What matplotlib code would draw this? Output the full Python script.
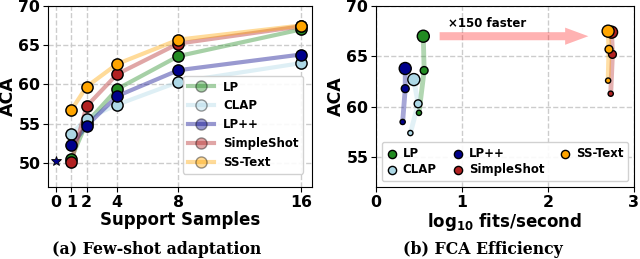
import numpy as np
import matplotlib
matplotlib.use("Agg")
import matplotlib.pyplot as plt

# data
shots = [1, 2, 4, 8, 16]
methods = ["LP", "CLAP", "LP++", "SimpleShot", "SS-Text"]
colors = ["forestgreen", "lightblue", "darkblue", "firebrick", "orange"]

aca_lp = [50.5, 55.1, 59.4, 63.6, 67.0]
aca_clap = [53.7, 55.6, 57.4, 60.3, 62.7]
aca_lppp = [52.2, 54.7, 58.5, 61.8, 63.8]
aca_simpleshot = [50.1, 57.2, 61.3, 65.2, 67.4]
aca_sstext = [56.7, 59.7, 62.6, 65.7, 67.5]
zero_shot = 50.2

# efficiency panel: 4, 8, 16 shots
eff_shots = [4, 8, 16]
fits_lp = [0.50, 0.56, 0.55]
fits_clap = [0.40, 0.49, 0.44]
fits_lppp = [0.31, 0.34, 0.34]
fits_simpleshot = [2.73, 2.75, 2.74]
fits_sstext = [2.70, 2.71, 2.70]

plt.rcParams['font.family'] = 'DejaVu Sans'
plt.rcParams['font.weight'] = 'bold'

fig = plt.figure(figsize=(6.4, 2.59), dpi=100)
ax1 = fig.add_axes([0.075, 0.278, 0.4125, 0.699])
ax2 = fig.add_axes([0.5875, 0.278, 0.403, 0.699])

all_aca = [aca_lp, aca_clap, aca_lppp, aca_simpleshot, aca_sstext]
all_fits = [fits_lp, fits_clap, fits_lppp, fits_simpleshot, fits_sstext]

# (a) few-shot adaptation
for name, col, vals in zip(methods, colors, all_aca):
    ax1.plot(shots, vals, '-o', color=col, lw=3, alpha=0.4, ms=8,
             mec='black', mew=1, label=name, zorder=2)
for name, col, vals in zip(methods, colors, all_aca):
    ax1.plot(shots, vals, 'o', color=col, ms=8, mec='black', mew=1, zorder=3)
ax1.plot([0], [zero_shot], '*', color='darkblue', ms=7, mec='black', mew=0.6, zorder=3)

ax1.set_xlim(-0.52, 16.73)
ax1.set_ylim(46.9, 70.0)
ax1.set_xticks([0, 1, 2, 4, 8, 16])
ax1.set_yticks([50, 55, 60, 65, 70])
ax1.grid(True, ls='--', color='#cccccc', lw=1)
ax1.set_axisbelow(True)
ax1.tick_params(labelsize=11.3, pad=2)
ax1.set_xlabel("Support Samples", fontsize=12, fontweight='bold', labelpad=1)
ax1.set_ylabel("ACA", fontsize=12.5, fontweight='bold', labelpad=1)
ax1.legend(loc='lower right', fontsize=8.5, handlelength=2.2, framealpha=0.9,
           borderpad=0.4, labelspacing=0.5, bbox_to_anchor=(0.99, 0.04))

# (b) FCA efficiency
sizes = [14, 32, 75]
for name, col, fx, vals in zip(methods, colors, all_fits, all_aca):
    ys = vals[2:]
    ax2.plot(fx, ys, '-', color=col, lw=3.5, alpha=0.35, zorder=2)
    ax2.scatter(fx, ys, s=sizes, color=col, edgecolor='black', lw=1, zorder=3, label=name)

ax2.arrow(0.74, 67.0, 1.73, 0, width=0.8, head_width=1.7, head_length=0.27,
          length_includes_head=True, color='red', alpha=0.3, lw=0)
ax2.text(1.29, 68.3, "×150 faster", fontsize=8.5, fontweight='bold',
         ha='center', va='center')

ax2.set_xlim(0, 3)
ax2.set_ylim(52.05, 70.0)
ax2.set_xticks([0, 1, 2, 3])
ax2.set_yticks([55, 60, 65, 70])
ax2.grid(True, ls='--', color='#cccccc', lw=1)
ax2.set_axisbelow(True)
ax2.tick_params(labelsize=11.3, pad=2)
ax2.set_xlabel(r"log$_{\mathbf{10}}$ fits/second", fontsize=12, fontweight='bold', labelpad=1)
ax2.set_ylabel("ACA", fontsize=12.5, fontweight='bold', labelpad=1)
leg = ax2.legend(loc='lower center', ncol=3, fontsize=8.5, handlelength=1.0,
                 handletextpad=0.4, columnspacing=1.3, borderpad=0.4,
                 labelspacing=0.3, framealpha=0.9, scatterpoints=1)
for h in leg.legend_handles:
    h.set_sizes([35])

fig.text(0.245, 0.035, "(a) Few-shot adaptation", fontsize=11.3, fontweight='bold',
         family='DejaVu Serif', ha='center', va='center')
fig.text(0.755, 0.035, "(b) FCA Efficiency", fontsize=11.3, fontweight='bold',
         family='DejaVu Serif', ha='center', va='center')

fig.savefig("out.png", dpi=100)
